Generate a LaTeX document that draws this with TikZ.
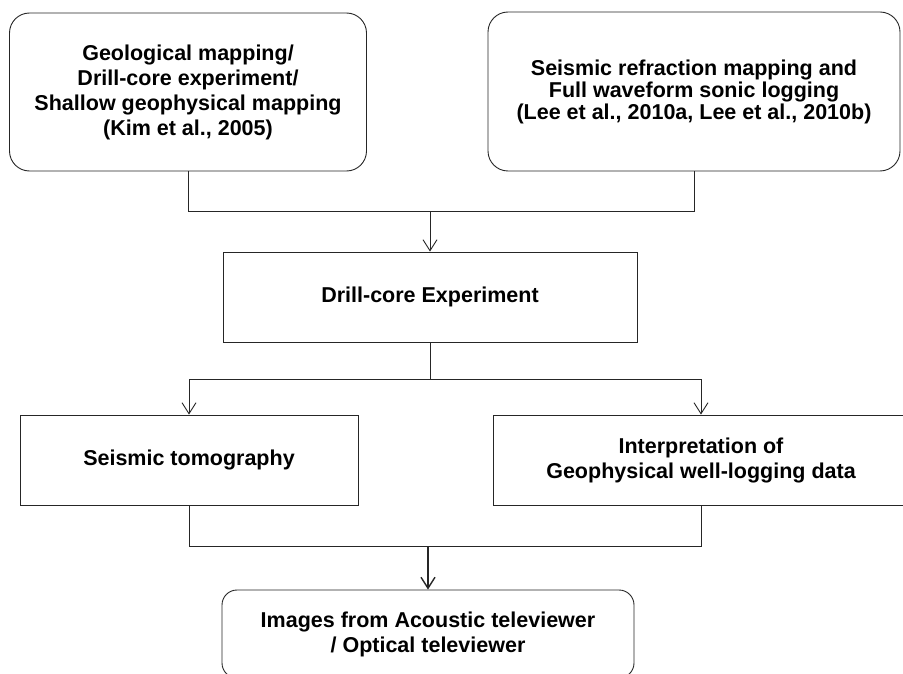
\documentclass[tikz,border=0pt]{standalone}
\usepackage{fontspec}
\setmainfont{Liberation Sans}
\usetikzlibrary{arrows.meta,calc,positioning}

\begin{document}
\begin{tikzpicture}[x=1pt,y=-1pt,
    box/.style={draw=black!85,line width=0.9pt,align=center,inner sep=0pt,
        font=\fontsize{21.5}{25}\selectfont\bfseries},
    roundbox/.style={box,rounded corners=20pt},
    link/.style={draw=black!85,line width=0.9pt},
    >={Straight Barb[length=11pt,width=14pt]}]

    \useasboundingbox (0,0) rectangle (903,674);
    \clip (0,0) rectangle (903,674);

    % first row
    \node[roundbox,minimum width=357pt,minimum height=158pt] (geo) at (188,92)
        {Geological mapping/\\Drill-core experiment/\\Shallow geophysical mapping\\(Kim et al., 2005)};
    \node[roundbox,minimum width=412pt,minimum height=159pt,
        font=\fontsize{21.5}{22}\selectfont\bfseries] (refr) at (694,91.5)
        {Seismic refraction mapping and\\Full waveform sonic logging\\(Lee et al., 2010a, Lee et al., 2010b)};

    % middle
    \node[box,minimum width=414pt,minimum height=90pt] (drill) at (430,297)
        {Drill-core Experiment};

    % second row
    \node[box,minimum width=338pt,minimum height=90pt] (tomo) at (189,460)
        {Seismic tomography};
    \node[box,minimum width=416pt,minimum height=90pt] (interp) at (701,460)
        {Interpretation of\\Geophysical well-logging data};

    % last box
    \node[roundbox,rounded corners=15pt,minimum width=412pt,minimum height=88pt] (images) at (428,634)
        {Images from Acoustic televiewer\\/ Optical televiewer};

    % junctions
    \coordinate (jtop) at ($(drill.north)+(0,-40)$);
    \coordinate (jmid) at ($(drill.south)+(0,37)$);
    \coordinate (jbot) at ($(images.north)+(0,-43)$);

    % connectors
    \draw[link] (geo.south) |- (jtop) -| (refr.south);
    \draw[link,->] (jtop) -- (drill.north);
    \draw[link] (drill.south) -- (jmid);
    \draw[link,->] (jmid) -| (tomo.north);
    \draw[link,->] (jmid) -| (interp.north);
    \draw[link] (tomo.south) |- (jbot) -| (interp.south);
    \draw[link,->,line width=1.4pt] (jbot) -- (images.north);
\end{tikzpicture}
\end{document}
